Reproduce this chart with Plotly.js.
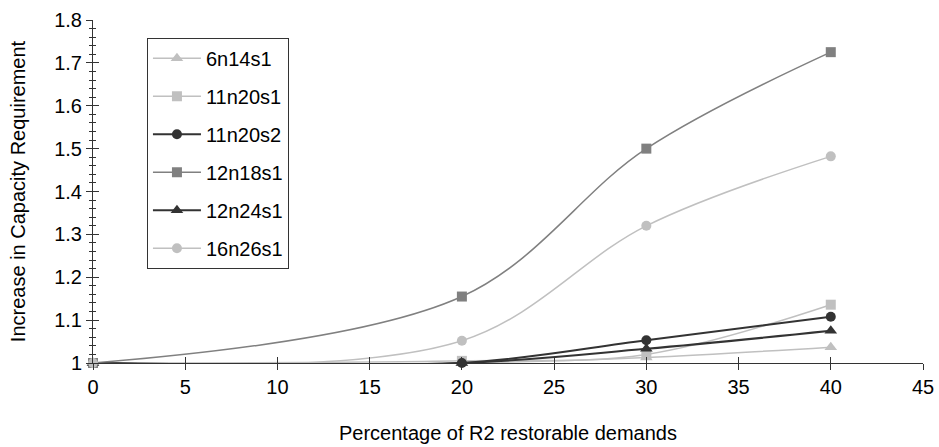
<!DOCTYPE html>
<html>
<head>
<meta charset="utf-8">
<script src="https://cdn.plot.ly/plotly-3.0.1.min.js"></script>
<style>html,body{margin:0;padding:0;background:#fff;}#chart{width:939px;height:447px;}</style>
</head>
<body>
<div id="chart"></div>
<script>
const xPct = [0, 20, 30, 40];
const seriesNames = ["6n14s1", "11n20s1", "11n20s2", "12n18s1", "12n24s1", "16n26s1"];
const v6n14s1  = [1, 1.000, 1.013, 1.037];
const v11n20s1 = [1, 1.005, 1.020, 1.136];
const v11n20s2 = [1, 1.000, 1.053, 1.108];
const v12n18s1 = [1, 1.155, 1.500, 1.725];
const v12n24s1 = [1, 1.000, 1.033, 1.075];
const v16n26s1 = [1, 1.052, 1.320, 1.482];
const xTicks = [0, 5, 10, 15, 20, 25, 30, 35, 40, 45];
const yTicks = [1, 1.1, 1.2, 1.3, 1.4, 1.5, 1.6, 1.7, 1.8];

const styles = [
  {c: "#c0c0c0", s: "triangle-up", sz: 11, w: 1.5},
  {c: "#c0c0c0", s: "square", sz: 10, w: 1.5},
  {c: "#333333", s: "circle", sz: 10, w: 2},
  {c: "#808080", s: "square", sz: 10, w: 1.5},
  {c: "#333333", s: "triangle-up", sz: 11, w: 2},
  {c: "#c0c0c0", s: "circle", sz: 10, w: 1.5}
];
const vals = [v6n14s1, v11n20s1, v11n20s2, v12n18s1, v12n24s1, v16n26s1];

const traces = seriesNames.map((n, i) => ({
  type: "scatter", mode: "lines+markers", name: n, x: xPct, y: vals[i],
  legendgroup: n,
  line: {color: styles[i].c, width: styles[i].w, shape: "spline", smoothing: 1},
  marker: {color: styles[i].c, symbol: styles[i].s, size: styles[i].sz, line: {width: 0}},
  cliponaxis: false
}));
traces.push({type: "scatter", x: [0], y: [1], xaxis: "x2", yaxis: "y2", mode: "markers",
  marker: {opacity: 0}, showlegend: false, hoverinfo: "skip"});

const fontF = "Liberation Sans, Arial, sans-serif";
const layout = {
  width: 939, height: 447,
  margin: {l: 93, r: 16, t: 20, b: 84},
  paper_bgcolor: "#fff", plot_bgcolor: "#fff",
  font: {family: fontF, size: 20, color: "#000"},
  showlegend: true,
  legend: {x: 0.065, y: 0.948, xanchor: "left", yanchor: "top",
    bordercolor: "#333", borderwidth: 1, bgcolor: "#fff", itemwidth: 48,
    font: {family: fontF, size: 20, color: "#000"}, tracegroupgap: 9},
  xaxis: {range: [0, 45], tickvals: xTicks, ticktext: xTicks.map(String),
    showgrid: false, zeroline: false, showline: true, linecolor: "#333", linewidth: 1,
    ticks: "outside", ticklen: 6, tickcolor: "#333", tickfont: {size: 20},
    title: {text: "Percentage of R2 restorable demands", font: {size: 20}, standoff: 28},
    fixedrange: true},
  yaxis: {range: [1, 1.8], tickvals: yTicks, ticktext: yTicks.map(v => String(+v.toFixed(1))),
    showgrid: false, zeroline: false, showline: true, linecolor: "#333", linewidth: 1,
    ticks: "outside", ticklen: 6, tickcolor: "#333", tickfont: {size: 20},
    minor: {dtick: 0.02, ticks: "outside", ticklen: 3, tickcolor: "#333"},
    title: {text: "Increase in Capacity Requirement", font: {size: 20}, standoff: 23},
    fixedrange: true},
  xaxis2: {overlaying: "x", range: [0, 45], tickvals: xTicks, showticklabels: false,
    showgrid: false, zeroline: false, showline: false, ticks: "inside", ticklen: 6, tickcolor: "#333",
    side: "bottom", anchor: "y2"},
  yaxis2: {overlaying: "y", range: [1, 1.8], tickvals: yTicks, showticklabels: false,
    showgrid: false, zeroline: false, showline: false, ticks: "inside", ticklen: 6, tickcolor: "#333",
    minor: {dtick: 0.02, ticks: "inside", ticklen: 3, tickcolor: "#333"},
    side: "left", anchor: "x2"}
};
Plotly.newPlot("chart", traces, layout, {staticPlot: true, displayModeBar: false});
</script>
</body>
</html>
